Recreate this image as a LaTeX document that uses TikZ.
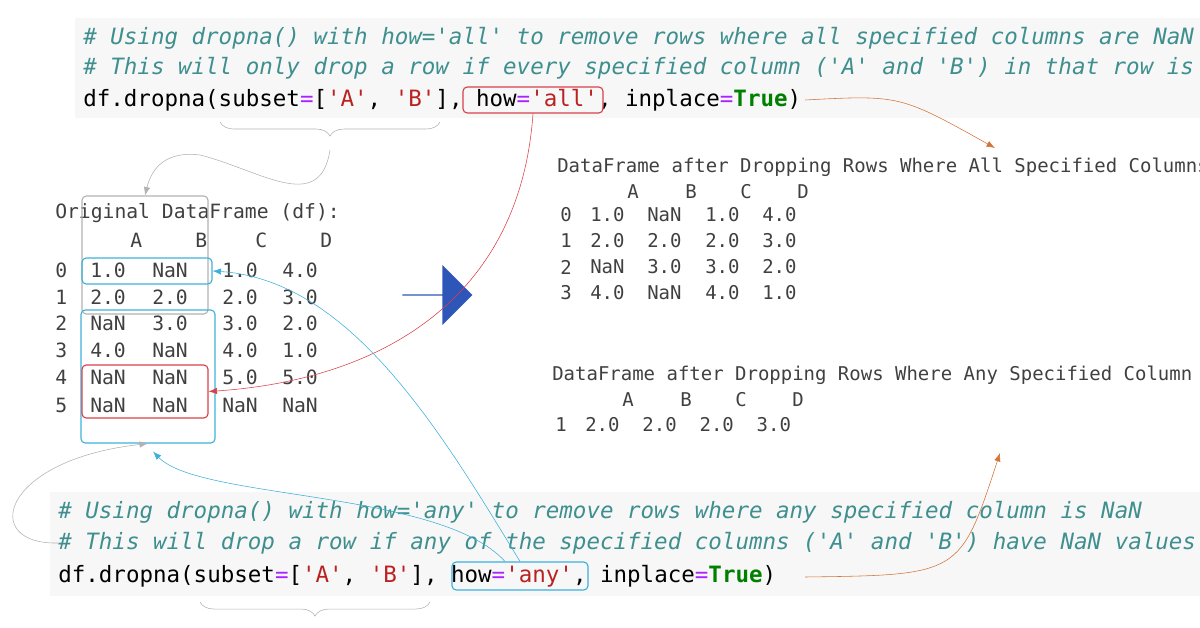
\documentclass[tikz,border=0pt]{standalone}
\usepackage{fontspec}
\usetikzlibrary{shapes.arrows,decorations.pathreplacing,arrows.meta}
\newfontfamily\codefont{DejaVu Sans Mono}
\definecolor{cmt}{HTML}{3F8F8F}
\definecolor{eqc}{HTML}{AA22FF}
\definecolor{strc}{HTML}{BA2121}
\definecolor{truec}{HTML}{008000}
\definecolor{hlblue}{HTML}{3DB0DA}
\definecolor{hlred}{HTML}{D9404A}
\definecolor{orng}{HTML}{D2753A}
\definecolor{bigblue}{HTML}{2E56B8}
\newcommand{\eqs}{\textcolor{eqc}{=}}
\newcommand{\qs}[1]{\textcolor{strc}{'#1'}}
\newcommand{\tru}{\textcolor{truec}{\bfseries True}}
\newdimen\px \px=0.025cm

\begin{document}
\begin{tikzpicture}[x=0.025cm,y=-0.025cm]
            % Define node styles
            \tikzstyle{code} = [anchor=west, inner sep=0pt, font=\codefont\fontsize{16}{16}\selectfont]
            \tikzstyle{comment} = [code, text=cmt, font=\codefont\itshape\fontsize{16}{16}\selectfont]
            \tikzstyle{tab} = [anchor=west, inner sep=0pt, text=black!75, font=\codefont\fontsize{14}{14}\selectfont]
            \tikzstyle{rtab} = [anchor=west, inner sep=0pt, text=black!75, font=\codefont\fontsize{13.5}{13.5}\selectfont]
            \tikzstyle{hl} = [draw, thick, rounded corners=3pt, inner sep=0pt]
            \tikzstyle{link} = [thin, -{Latex[length=6pt]}]

            \useasboundingbox (0,0) rectangle (1200,628);
            \clip (0,0) rectangle (1200,628);

            % Code backgrounds
            \fill[black!3] (75,18) rectangle (1200,118);
            \fill[black!3] (50,492) rectangle (1200,596);

            % Top code block
            \node[comment] (c1) at (83,38) {\# Using dropna() with how='all' to remove rows where all specified columns are NaN};
            \node[comment] (c2) at (83,68) {\# This will only drop a row if every specified column ('A' and 'B') in that row is NaN};
            \node[code] (c3) at (83,100) {df.dropna(subset\eqs[\qs{A}, \qs{B}], how\eqs\qs{all}, inplace\eqs\tru)};
            \node[hl, hlred, minimum width=140\px, minimum height=26\px] (howall) at (533,100) {};

            % Bottom code block
            \node[comment] (b1) at (58,512) {\# Using dropna() with how='any' to remove rows where any specified column is NaN};
            \node[comment] (b2) at (58,543) {\# This will drop a row if any of the specified columns ('A' and 'B') have NaN values};
            \node[code] (b3) at (58,576) {df.dropna(subset\eqs[\qs{A}, \qs{B}], how\eqs\qs{any}, inplace\eqs\tru)};
            \node[hl, hlblue, minimum width=136\px, minimum height=28\px] (howany) at (520,576) {};

            % Braces under subset
            \draw[black!30, decorate, decoration={brace, mirror, amplitude=10pt}] (220,122) -- (440,122);
            \coordinate (toptip) at (330,150);
            \draw[black!30, decorate, decoration={brace, mirror, amplitude=10pt}] (200,602) -- (430,602);

            % Original DataFrame
            \node[tab] (otitle) at (55,213) {Original DataFrame (df):};
            \foreach \c/\x in {A/130,B/195,C/255,D/320}
                \node[tab] (oh\c) at (\x,240) {\c};
            \foreach \i/\a/\b/\cc/\d/\y in {0/1.0/NaN/1.0/4.0/270, 1/2.0/2.0/2.0/3.0/297,
                    2/NaN/3.0/3.0/2.0/323, 3/4.0/NaN/4.0/1.0/350,
                    4/NaN/NaN/5.0/5.0/377, 5/NaN/NaN/NaN/NaN/405} {
                \node[tab] (oi\i) at (55,\y) {\i};
                \node[tab] (oa\i) at (90,\y) {\a};
                \node[tab] (ob\i) at (152,\y) {\b};
                \node[tab] (oc\i) at (222,\y) {\cc};
                \node[tab] (od\i) at (282,\y) {\d};
            }

            % Highlight boxes on the table
            \node[hl, black!30, minimum width=126\px, minimum height=118\px] (colsab) at (145,255) {};
            \node[hl, hlblue, minimum width=130\px, minimum height=26\px] (row0) at (147,271) {};
            \node[hl, hlblue, minimum width=134\px, minimum height=133\px] (rowsany) at (148,376.5) {};
            \node[hl, hlred, minimum width=126\px, minimum height=53\px] (rowsall) at (145,391.5) {};

            % Big arrow
            \node[single arrow, draw=none, fill=bigblue, minimum width=60\px, single arrow head extend=13\px,
                  minimum height=70\px, inner sep=0pt] (bigarrow) at (437,295) {};

            % Result after how='all'
            \node[rtab] (atitle) at (557,167) {DataFrame after Dropping Rows Where All Specified Columns are NaN:};
            \foreach \c/\x in {A/627,B/685,C/740,D/797}
                \node[rtab] (ah\c) at (\x,192) {\c};
            \foreach \i/\a/\b/\cc/\d/\y in {0/1.0/NaN/1.0/4.0/215, 1/2.0/2.0/2.0/3.0/241,
                    2/NaN/3.0/3.0/2.0/267, 3/4.0/NaN/4.0/1.0/293} {
                \node[rtab] (ai\i) at (560,\y) {\i};
                \node[rtab] (aa\i) at (590,\y) {\a};
                \node[rtab] (ab\i) at (647,\y) {\b};
                \node[rtab] (ac\i) at (705,\y) {\cc};
                \node[rtab] (ad\i) at (762,\y) {\d};
            }

            % Result after how='any'
            \node[rtab] (ytitle) at (552,375) {DataFrame after Dropping Rows Where Any Specified Column is NaN:};
            \foreach \c/\x in {A/622,B/680,C/735,D/792}
                \node[rtab] (yh\c) at (\x,400) {\c};
            \node[rtab] (yi1) at (555,425) {1};
            \node[rtab] (yrow) at (585,425) {2.0\ \ 2.0\ \ 2.0\ \ 3.0};

            % Connectors
            \coordinate (allend) at (805,100);
            \coordinate (anyend) at (805,577);
            \coordinate (atgt) at (995,148);
            \coordinate (ytgt) at (1000,453);
            \draw[link, orng] (allend) .. controls (900,95) .. (atgt);
            \draw[link, orng] (anyend) .. controls (960,575) .. (ytgt);
            \draw[link, hlred] (howall.south) .. controls (520,300) and (380,380) .. (rowsall.east);
            \draw[link, hlblue] (howany.north) .. controls (440,430) and (350,280) .. (row0.east);
            \draw[link, hlblue] ([xshift=-15\px]howany.north) .. controls (440,490) and (200,500) .. ([xshift=5\px,yshift=-8\px]rowsany.south);
            \draw[link, black!30] (toptip) .. controls (320,215) and (260,170) .. (200,155) .. controls (160,150) and (150,175) .. (colsab.north);
            \draw[link, black!30] (b2.west) .. controls (-20,545) and (0,460) .. (rowsany.south);
        \end{tikzpicture}
\end{document}
